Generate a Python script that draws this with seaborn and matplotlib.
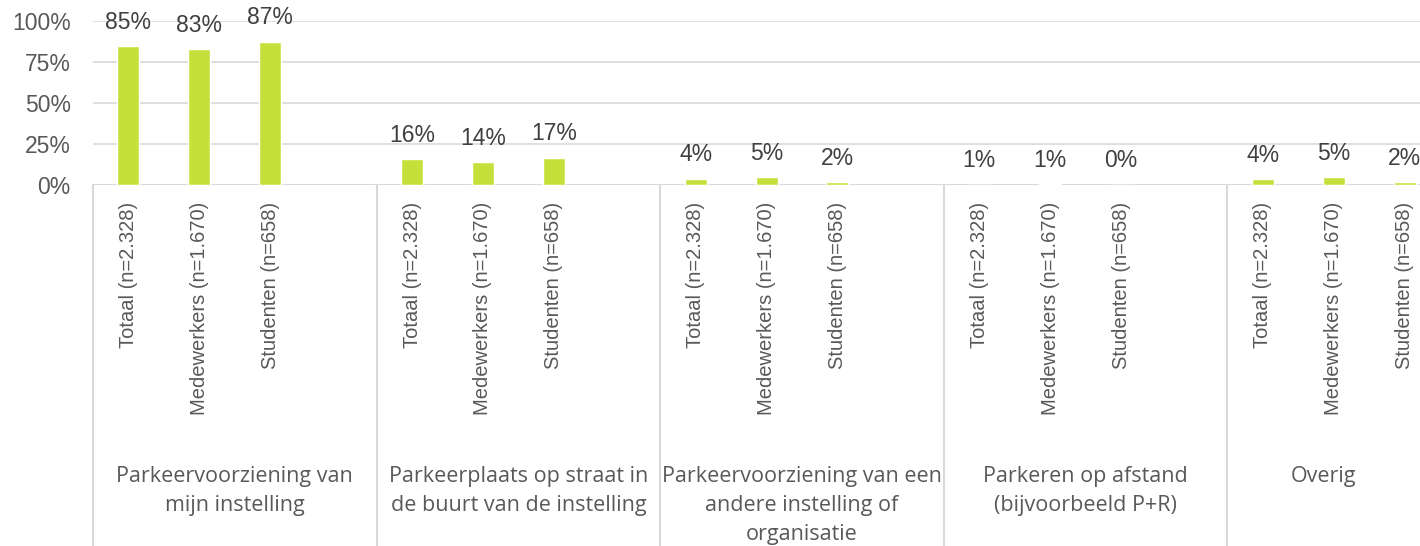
import matplotlib
matplotlib.use("Agg")
import matplotlib.pyplot as plt
import matplotlib.transforms as mtransforms
import seaborn as sns
import pandas as pd

# categories (per group), groups and values
groups = [
    "Parkeervoorziening van\nmijn instelling",
    "Parkeerplaats op straat in\nde buurt van de instelling",
    "Parkeervoorziening van een\nandere instelling of\norganisatie",
    "Parkeren op afstand\n(bijvoorbeeld P+R)",
    "Overig",
]
respondents = ["Totaal (n=2.328)", "Medewerkers (n=1.670)", "Studenten (n=658)"]
values = [
    [84.6, 82.8, 87.2],
    [15.6, 13.8, 16.5],
    [3.7, 4.8, 1.8],
    [0.3, 0.6, 0.1],
    [3.5, 4.6, 1.7],
]
pct_labels = [
    ["85%", "83%", "87%"],
    ["16%", "14%", "17%"],
    ["4%", "5%", "2%"],
    ["1%", "1%", "0%"],
    ["4%", "5%", "2%"],
]
yticks = [0, 25, 50, 75, 100]

BAR = "#C6E03B"
GRID = "#D9D9D9"
TXT = "#595959"
LBL = "#404040"

sns.set_style("white")
plt.rcParams["font.family"] = ["Liberation Sans", "DejaVu Sans"]

# one slot per bar plus an empty slot after each group (like the Excel chart)
rows = []
order = []
for g, grp in enumerate(groups):
    for i, resp in enumerate(respondents):
        key = f"{g}_{i}"
        order.append(key)
        rows.append({"slot": key, "value": values[g][i], "label": pct_labels[g][i],
                     "resp": resp})
    order.append(f"{g}_blank")
df = pd.DataFrame(rows)

W, H = 1420, 546
fig = plt.figure(figsize=(W / 100, H / 100), dpi=100)
x0, x1 = 93, 1511
ytop, ybot = 21, 185
ax = fig.add_axes([x0 / W, (H - ybot) / H, (x1 - x0) / W, (ybot - ytop) / H])

sns.barplot(data=df, x="slot", y="value", order=order, color=BAR,
            width=0.31, saturation=1, ax=ax)

ax.set_xlim(-0.5, len(order) - 0.5)
ax.set_ylim(0, 100)
ax.set_yticks(yticks)
ax.set_yticklabels([f"{t}%" for t in yticks], fontsize=16.5, color=TXT)
ax.tick_params(axis="y", length=0, pad=16)
ax.yaxis.grid(True, color=GRID, lw=1.2)
ax.set_axisbelow(True)
for s in ax.spines.values():
    s.set_visible(False)
ax.axhline(0, color=GRID, lw=1.5, zorder=0.5)
ax.set_xlabel("")
ax.set_ylabel("")

# respondent tick labels (rotated)
pos = [order.index(k) for k in df["slot"]]
ax.set_xticks(pos)
ax.set_xticklabels(df["resp"], rotation=90, fontsize=14.5, color=TXT)
ax.tick_params(axis="x", length=0, pad=12)

# data labels
for p, v, lab in zip(pos, df["value"], df["label"]):
    ax.annotate(lab, (p, v), xytext=(0, 9), textcoords="offset points",
                ha="center", va="bottom", fontsize=16.5, color=LBL)

# group separators and labels
tr = mtransforms.blended_transform_factory(ax.transData, fig.transFigure)
for g in range(len(groups) + 1):
    xs = 4 * g - 0.5
    ax.plot([xs, xs], [(H - ybot) / H, 0], color=GRID, lw=1.5,
            transform=tr, clip_on=False)

px_per_unit = (x1 - x0) / len(order)
for g, grp in enumerate(groups):
    left = 4 * g - 0.5
    right = min(4 * g + 3.5, (W - x0) / px_per_unit - 0.5)
    ax.text((left + right) / 2, 1 - 466 / H, grp, transform=tr, ha="center",
            va="top", fontsize=15.5, color=TXT, linespacing=1.5,
            family=["Open Sans", "DejaVu Sans"])

fig.savefig("out.png", dpi=100)
